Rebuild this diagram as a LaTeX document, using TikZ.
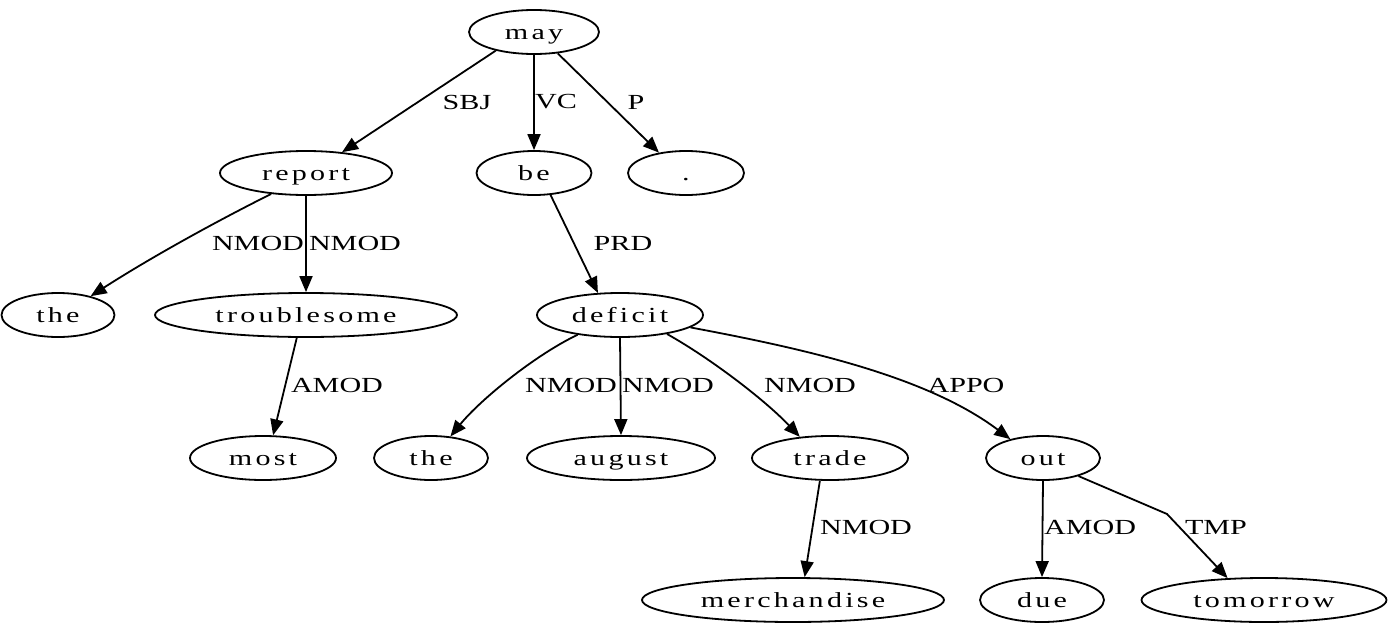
\documentclass[tikz,border=0pt]{standalone}
\usepackage{fontspec}
\setmainfont{Liberation Serif}
\newfontfamily\lblfont[FakeStretch=1.4]{Liberation Serif}
\newfontfamily\wordfont[FakeStretch=1.4,LetterSpace=15]{Liberation Serif}
\usetikzlibrary{shapes.geometric,arrows.meta}
\tikzset{
  word/.style={ellipse,draw,line width=1.8pt,inner sep=0pt,minimum height=44pt,
    text height=16pt,text depth=2pt,
    font=\wordfont\fontsize{21.5}{24}\selectfont},
  arr/.style={line width=1.8pt,-{Triangle[length=16pt,width=13pt]}},
  lbl/.style={font=\lblfont\fontsize{21.5}{24}\selectfont,inner sep=0pt}
}
\begin{document}
\begin{tikzpicture}[x=1pt,y=-1pt]
\useasboundingbox (0,0) rectangle (1388,629);
% nodes
\node[word,minimum width=130pt] (may) at (534,32) {may};
\node[word,minimum width=172pt] (report) at (306,173) {report};
\node[word,minimum width=115pt] (be) at (534,173) {be};
\node[word,minimum width=116pt] (dot) at (686,173) {.};
\node[word,minimum width=113pt] (the1) at (58,315) {the};
\node[word,minimum width=302pt] (troublesome) at (306,315) {troublesome};
\node[word,minimum width=166pt] (deficit) at (620,315) {deficit};
\node[word,minimum width=146pt] (most) at (263,458) {most};
\node[word,minimum width=114pt] (the2) at (431,458) {the};
\node[word,minimum width=188pt] (august) at (621,458) {august};
\node[word,minimum width=156pt] (trade) at (830,458) {trade};
\node[word,minimum width=114pt] (out) at (1043,458) {out};
\node[word,minimum width=302pt] (merchandise) at (793,600) {merchandise};
\node[word,minimum width=124pt] (due) at (1042,600) {due};
\node[word,minimum width=245pt] (tomorrow) at (1264,600) {tomorrow};
% edges
\draw[arr] (may.206) -- (report.30);
\draw[arr] (may.270) -- (be.90);
\draw[arr] (may.318) -- (dot.143);
\draw[arr] (report.211) .. controls (215,222) and (150,258) .. (the1.30);
\draw[arr] (report.270) -- (troublesome.90);
\draw[arr] (troublesome.248) -- (most.66);
\draw[arr] (be.307) -- (deficit.135);
\draw[arr] (deficit.205) .. controls (535,355) and (480,400) .. (the2.48);
\draw[arr] (deficit.270) -- (august.90);
\draw[arr] (deficit.338) .. controls (710,358) and (765,400) .. (trade.145);
\draw[arr] (deficit.350) .. controls (800,348) and (925,375) .. (out.150);
\draw[arr] (trade.246) -- (merchandise.63);
\draw[arr] (out.270) -- (due.90);
\coordinate (tk) at (1167,514);
\draw[arr] (out.333) -- (tk) -- (tomorrow.149);
% labels
\node[lbl] (l1) at (467,102) {SBJ};
\node[lbl] (l2) at (556,102) {VC};
\node[lbl] (l3) at (636,102) {P};
\node[lbl] (l4) at (258,243) {NMOD};
\node[lbl] (l5) at (355,243) {NMOD};
\node[lbl] (l6) at (623,243) {PRD};
\node[lbl] (l7) at (337,385) {AMOD};
\node[lbl] (l8) at (571,385) {NMOD};
\node[lbl] (l9) at (668,385) {NMOD};
\node[lbl] (l10) at (810,385) {NMOD};
\node[lbl] (l11) at (966,385) {APPO};
\node[lbl] (l12) at (866,527) {NMOD};
\node[lbl] (l13) at (1090,527) {AMOD};
\node[lbl] (l14) at (1216,527) {TMP};
\end{tikzpicture}
\end{document}
